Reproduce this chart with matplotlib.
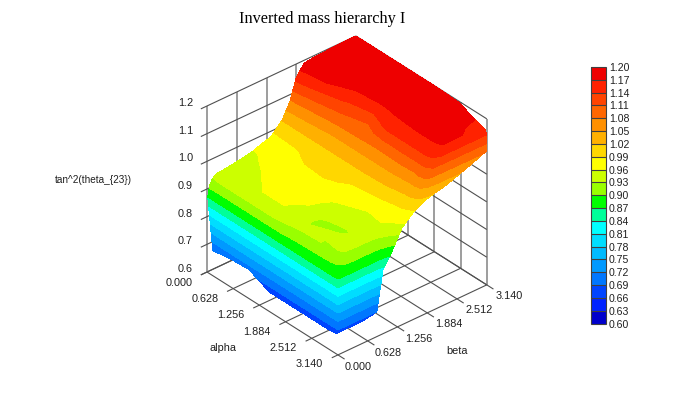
import matplotlib
matplotlib.use('Agg')
import matplotlib.pyplot as plt
from matplotlib.colors import ListedColormap, BoundaryNorm
import numpy as np

plt.rcParams.update({
    'font.family': 'sans-serif',
    'font.sans-serif': ['Liberation Sans'],
})

TITLE = 'Inverted mass hierarchy I'
alpha_ticks = [0.000, 0.628, 1.256, 1.884, 2.512, 3.140]
beta_ticks = [0.000, 0.628, 1.256, 1.884, 2.512, 3.140]
z_ticks = [0.6, 0.7, 0.8, 0.9, 1.0, 1.1, 1.2]
levels = [0.60, 0.63, 0.66, 0.69, 0.72, 0.75, 0.78, 0.81, 0.84, 0.87, 0.90,
          0.93, 0.96, 0.99, 1.02, 1.05, 1.08, 1.11, 1.14, 1.17, 1.20]
band_colors = ['#0000CC', '#0022FF', '#0044FF', '#0077FF', '#0099FF', '#00BBFF',
               '#00DDFF', '#00FFFF', '#00FF99', '#00FF00', '#99FF00', '#CCFF00',
               '#FFFF00', '#FFD700', '#FFB000', '#FF9000', '#FF6600', '#FF4400',
               '#FF2200', '#EE0000']

# surface, rows are beta, columns are alpha
alpha_grid = [0.0, 0.14, 0.5, 1.0, 1.5, 1.75, 2.0, 2.5, 2.85, 2.95, 3.06, 3.12, 3.14]
beta_grid = [0.0, 0.015, 0.05, 0.1, 0.2, 0.3, 0.5, 0.7, 0.82, 0.95, 1.15, 1.35, 1.58,
             1.75, 1.88, 2.05, 2.3, 2.7, 3.0, 3.14]
nan = float('nan')
tan2_theta = [
    [nan, 0.690, 0.700, 0.705, 0.670, 0.670, 0.670, 0.670, 0.670, 0.670, 0.672, 0.675, 0.680],
    [0.870, 0.870, 0.870, 0.870, 0.870, 0.870, 0.870, 0.870, 0.870, 0.870, 0.870, 0.870, 0.680],
    [0.905, 0.900, 0.900, 0.900, 0.900, 0.900, 0.890, 0.885, 0.885, 0.885, 0.875, 0.870, 0.680],
    [0.925, 0.930, 0.930, 0.930, 0.930, 0.925, 0.910, 0.905, 0.900, 0.895, 0.880, 0.870, 0.680],
    [0.940, 0.940, 0.940, 0.945, 0.945, 0.940, 0.935, 0.930, 0.925, 0.920, 0.895, 0.870, 0.680],
    [0.940, 0.945, 0.945, 0.960, 0.960, 0.945, 0.935, 0.930, 0.935, 0.930, 0.900, 0.870, 0.680],
    [0.945, 0.947, 0.950, 0.970, 0.965, 0.955, 0.925, 0.935, 0.935, 0.935, 0.900, 0.870, 0.680],
    [0.950, 0.950, 0.960, 0.975, 0.970, 0.965, 0.932, 0.925, 0.940, 0.935, 0.900, 0.870, 0.685],
    [0.954, 0.955, 0.965, 0.978, 0.972, 0.968, 0.945, 0.935, 0.942, 0.938, 0.902, 0.872, 0.690],
    [0.958, 0.960, 0.970, 0.980, 0.975, 0.970, 0.955, 0.945, 0.945, 0.940, 0.905, 0.875, 0.830],
    [0.970, 0.972, 0.980, 0.988, 0.990, 0.985, 0.975, 0.955, 0.960, 0.955, 0.930, 0.900, 0.885],
    [0.980, 0.982, 0.985, 1.000, 1.000, 0.995, 0.985, 0.975, 0.970, 0.968, 0.960, 0.950, 0.950],
    [1.020, 1.020, 1.020, 1.020, 1.020, 1.020, 1.020, 1.015, 1.000, 1.000, 0.990, 0.987, 0.985],
    [1.075, 1.070, 1.060, 1.050, 1.050, 1.050, 1.050, 1.050, 1.040, 1.040, 1.030, 1.010, 1.000],
    [1.150, 1.140, 1.110, 1.090, 1.085, 1.082, 1.080, 1.085, 1.080, 1.090, 1.080, 1.050, 1.012],
    [1.190, 1.185, 1.175, 1.130, 1.100, 1.130, 1.150, 1.150, 1.150, 1.150, 1.140, 1.120, 1.020],
    [1.195, 1.195, 1.190, 1.180, 1.170, 1.172, 1.175, 1.180, 1.180, 1.180, 1.175, 1.160, 1.030],
    [1.198, 1.197, 1.195, 1.190, 1.190, 1.190, 1.190, 1.190, 1.180, 1.175, 1.170, 1.160, 1.055],
    [1.200, 1.200, 1.198, 1.195, 1.195, 1.195, 1.195, 1.190, 1.175, 1.165, 1.160, 1.150, 1.075],
    [1.200, 1.200, 1.200, 1.200, 1.200, 1.200, 1.200, 1.195, 1.170, 1.165, 1.160, 1.155, 1.085],
]


def project(a, b, z):
    # fixed axonometric view, result in figure pixels
    a, b, z = np.asarray(a), np.asarray(b), np.asarray(z)
    x = 207 + 41.7 * a + 47.4 * b
    y = 272 + 26.4 * a - 22.3 * b - 276.7 * (z - 0.6)
    return x, y


def line3d(ax, a, b, z, color='#505050', lw=0.8):
    x, y = project(a, b, z)
    ax.plot(x, y, color=color, lw=lw, solid_capstyle='butt', zorder=1)


def draw():
    fig = plt.figure(figsize=(6.87, 3.97), dpi=100, facecolor='white')
    ax = fig.add_axes([0, 0, 1, 1])
    ax.set_xlim(0, 687)
    ax.set_ylim(397, 0)
    ax.axis('off')

    a_end, b_end = alpha_ticks[-1], beta_ticks[-1]
    z_lo, z_hi = z_ticks[0], z_ticks[-1]

    # floor grid with outward ticks
    for a in alpha_ticks:
        line3d(ax, [a, a], [-0.13, b_end], [z_lo, z_lo])
        line3d(ax, [a, a], [b_end, b_end], [z_lo, z_hi], '#8c8c8c', 1.2)
    for b in beta_ticks:
        line3d(ax, [0, a_end + 0.16], [b, b], [z_lo, z_lo])
        line3d(ax, [0, 0], [b, b], [z_lo, z_hi], '#8c8c8c', 1.2)
    # walls
    for z in z_ticks:
        line3d(ax, [0, 0], [-0.13, b_end], [z, z])
        line3d(ax, [0, a_end], [b_end, b_end], [z, z])

    X, Y = np.meshgrid(alpha_grid, beta_grid)
    Z = np.ma.masked_invalid(tan2_theta)
    px, py = project(X, Y, Z.filled(z_lo))
    cmap = ListedColormap(band_colors)
    norm = BoundaryNorm(levels, cmap.N)
    cs = ax.contourf(px, py, Z, levels=levels, cmap=cmap, norm=norm,
                     antialiased=False, zorder=2)

    # tick labels
    for a, lx, ly in zip(alpha_ticks, np.arange(6) * 26 + 179, np.arange(6) * 16.2 + 283):
        ax.text(lx, ly, f'{a:.3f}', ha='center', va='center', fontsize=7.8, color='#202020')
    for b, lx, ly in zip(beta_ticks, np.arange(6) * 30.2 + 358, 367 - np.arange(6) * 14.2):
        ax.text(lx, ly, f'{b:.3f}', ha='center', va='center', fontsize=7.8, color='#202020')
    for z in z_ticks:
        _, ty = project(0, 0, z)
        ax.text(193, ty - 3, f'{z:.1f}', ha='right', va='center', fontsize=7.8, color='#202020')

    ax.text(223, 348, 'alpha', ha='center', va='center', fontsize=7.8, color='#202020')
    ax.text(457, 351, 'beta', ha='center', va='center', fontsize=7.8, color='#202020')
    ax.text(93, 180, 'tan^2(theta_{23})', ha='center', va='center', fontsize=7.2, color='#202020')
    ax.text(322, 19, TITLE, ha='center', va='center', fontsize=11.7, family='Liberation Serif')

    # colour key
    cax = fig.add_axes([591 / 687, 1 - 323.5 / 397, 15 / 687, 256.5 / 397])
    cb = fig.colorbar(cs, cax=cax, ticks=levels, drawedges=True)
    cb.ax.set_yticklabels([f'{v:.2f}' for v in levels], fontsize=7.6, color='#202020')
    cb.ax.tick_params(length=0, pad=2)
    cb.outline.set_linewidth(0.8)
    cb.outline.set_edgecolor('#404040')
    cb.dividers.set_color('#404040')
    cb.dividers.set_linewidth(0.8)

    plt.savefig('out.png', dpi=100)


if __name__ == "__main__":
    draw()
